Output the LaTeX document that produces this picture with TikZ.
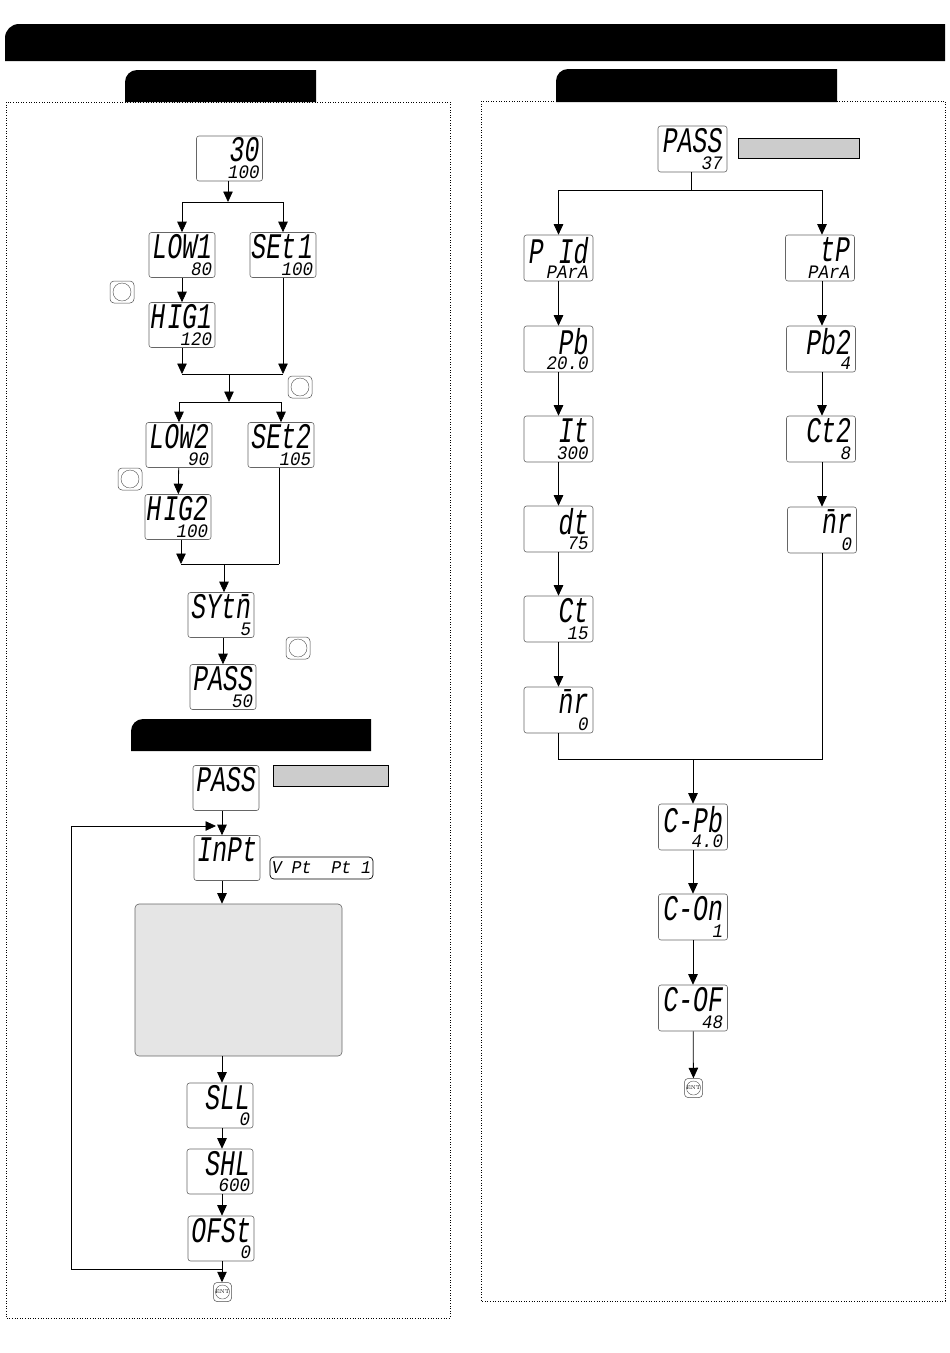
\documentclass[tikz,border=0pt]{standalone}
\usepackage{fontspec}
\usetikzlibrary{arrows.meta}
\newfontfamily\lcdtop[FakeStretch=0.69]{Liberation Mono Italic}
\newfontfamily\lcdbot[FakeStretch=0.92]{Liberation Mono Italic}
\newcommand\lcdshow[2]{\vbox to 41pt{\hsize=60pt
  \hbox to 60pt{\hss\fontsize{36}{36}\lcdtop\selectfont\rule{0pt}{24pt}#1}\vss
  \hbox to 60pt{\hss\fontsize{19}{19}\lcdbot\selectfont\rule{0pt}{13pt}#2}}}
\tikzset{
  lcd/.style={draw=black!60, line width=0.6pt, fill=white, rounded corners=2.5pt, inner sep=0pt, minimum width=66pt, minimum height=45pt},
  lcdwide/.style={lcd, minimum width=69pt, minimum height=46pt},
  note/.style={draw=black, line width=0.7pt, fill=black!20, inner sep=0pt},
  keybox/.style={draw=black!70, line width=0.5pt, rounded corners=4pt, inner sep=0pt, minimum width=24pt, minimum height=22pt},
  keyring/.style={draw=black!70, line width=0.4pt, circle, inner sep=0pt, minimum size=18pt},
  entbox/.style={draw=black!70, line width=0.5pt, rounded corners=3.5pt, inner sep=0pt, minimum width=18pt, minimum height=19pt, font=\fontsize{5.5}{5.5}\selectfont},
  entring/.style={draw=black!70, line width=0.4pt, circle, inner sep=0pt, minimum size=14pt},
  panel/.style={dotted, line width=0.6pt},
}
\begin{document}
\begin{tikzpicture}[x=1pt, y=-1pt, line width=0.8pt, >={Triangle[length=10.5pt,width=9.5pt]}]
  \path[use as bounding box] (0,0) rectangle (950,1353);

  \draw[panel] (6,102) rectangle (450,1318);
  \draw[panel] (481,101) rectangle (945,1301);

  %% black bars
  \fill (5,61) [rounded corners=14pt] -- (5,24) [sharp corners] -- (945,24) -- (945,61) -- cycle;
  \foreach \xa/\ya/\xb/\yb in {125/70/316/102, 556/69/837/102, 131/719/371/751}
    \fill (\xa,\yb) [rounded corners=12pt] -- (\xa,\ya) [sharp corners] -- (\xb,\ya) -- (\xb,\yb) -- cycle;

  %% left panel, upper part
  \node[lcd] (now) at (229.5,158.5) {\lcdshow{30}{100}};
  \node[lcd] (lowa) at (182,255) {\lcdshow{LOW1}{80}};
  \node[lcd] (seta) at (283,255) {\lcdshow{SEt\kern2pt 1}{100}};
  \node[lcd] (higa) at (182,325) {\lcdshow{H\kern2pt IG1}{120}};
  \node[lcd] (lowb) at (179,445) {\lcdshow{LOW2}{90}};
  \node[lcd] (setb) at (281,445) {\lcdshow{SEt2}{105}};
  \node[lcd] (higb) at (178,517) {\lcdshow{H\kern2pt IG2}{100}};
  \node[lcd] (sytm) at (221,615) {\lcdshow{SYt\=n}{5}};
  \node[lcd] (passa) at (223,687) {\lcdshow{PASS}{50}};

  \coordinate (splita) at (228,202);
  \coordinate (joina) at (229,374);
  \coordinate (splitb) at (229,402);
  \coordinate (joinl) at (181,564);
  \coordinate (joinr) at (279,564);
  \coordinate (joinb) at (224,564);

  \draw[->] (now.south -| splita) -- (splita);
  \draw[->] (splita) -| (lowa);
  \draw[->] (splita) -| (seta);
  \draw[->] (lowa) -- (higa);
  \draw[->] (higa.south) -- (higa |- joina);
  \draw[->] (seta.south) -- (seta |- joina);
  \draw (higa |- joina) -- (seta |- joina);
  \draw[->] (joina) -- (splitb);
  \draw[->] (splitb) -| (lowb);
  \draw[->] (splitb) -| (setb);
  \draw[->] (lowb) -- (higb);
  \draw[->] (higb.south -| joinl) -- (joinl);
  \draw (setb.south -| joinr) -- (joinr);
  \draw (joinl) -- (joinr);
  \draw[->] (joinb) -- (sytm.north -| joinb);
  \draw[->] (sytm.south -| passa) -- (passa);

  %% keys
  \foreach \n/\x/\y in {a/122/292, b/130/479, c/300/387, d/298/648} {
    \node[keybox] (key\n) at (\x,\y) {};
    \node[keyring] (ring\n) at (key\n) {};
  }

  %% left panel, lower part
  \node[lcd] (passb) at (226,788) {\lcdshow{PASS}{}};
  \node[note, minimum width=115pt, minimum height=21pt] (noteb) at (330.5,775.5) {};
  \node[lcd] (inpt) at (227,858) {\lcdshow{InPt}{}};
  \node[draw, line width=0.7pt, rounded corners=4pt, inner sep=0pt, minimum width=103pt, minimum height=22pt] (rtd) at (321.5,868) {\fontsize{18}{18}\lcdbot\selectfont V\ Pt\ \ Pt\ 1};
  \node[draw=black!60, line width=0.6pt, fill=black!10, rounded corners=4pt, minimum width=207pt, minimum height=152pt] (range) at (238.5,980) {};
  \node[lcd] (sll) at (220,1105.5) {\lcdshow{SLL}{0}};
  \node[lcd] (shl) at (220,1171.5) {\lcdshow{SHL}{600}};
  \node[lcd] (ofst) at (221,1238.5) {\lcdshow{OFSt}{0}};
  \node[entbox] (enta) at (222.5,1292) {ENT};
  \node[entring] (ringe) at (enta) {};

  \coordinate (trunk) at (222,826);
  \coordinate (back) at (222,1269);
  \coordinate (backl) at (71,1269);
  \coordinate (backu) at (71,826);
  \coordinate (backe) at (216,826);

  \draw[->] (passb.south -| trunk) -- (inpt.north -| trunk);
  \draw[->] (inpt.south -| trunk) -- (range.north -| trunk);
  \draw[->] (range.south -| trunk) -- (sll.north -| trunk);
  \draw[->] (sll.south -| trunk) -- (shl.north -| trunk);
  \draw[->] (shl.south -| trunk) -- (ofst.north -| trunk);
  \draw[->] (ofst.south -| trunk) -- (enta.north -| trunk);
  \draw[->] (back) -- (backl) -- (backu) -- (backe);

  %% right panel
  \node[lcdwide] (passc) at (692.5,149) {\lcdshow{PASS}{37}};
  \node[note, minimum width=121pt, minimum height=20pt] (notec) at (798.5,148) {};
  \node[lcdwide] (pid) at (558.5,258) {\lcdshow{P\ Id}{PArA}};
  \node[lcdwide] (pb) at (558.5,349) {\lcdshow{Pb}{20.0}};
  \node[lcdwide] (it) at (558.5,439) {\lcdshow{It}{300}};
  \node[lcdwide] (dt) at (558.5,529) {\lcdshow{dt}{75}};
  \node[lcdwide] (ct) at (558.5,619) {\lcdshow{Ct}{15}};
  \node[lcdwide] (mra) at (558.5,710) {\lcdshow{\=nr}{0}};
  \node[lcdwide] (tp) at (820,258) {\lcdshow{tP}{PArA}};
  \node[lcdwide] (pbb) at (821,349) {\lcdshow{Pb2}{4}};
  \node[lcdwide] (ctb) at (821,439) {\lcdshow{Ct2}{8}};
  \node[lcdwide] (mrb) at (822,530) {\lcdshow{\=nr}{0}};
  \node[lcdwide] (cpb) at (693,827) {\lcdshow{C-Pb}{4.0}};
  \node[lcdwide] (con) at (693,917) {\lcdshow{C-On}{1}};
  \node[lcdwide] (cof) at (693,1008) {\lcdshow{C-OF}{48}};
  \node[entbox] (entb) at (693.5,1088) {ENT};
  \node[entring] (ringf) at (entb) {};

  \coordinate (splitc) at (691,190);
  \coordinate (railr) at (822,190);
  \coordinate (joinc) at (693,759);

  \draw (passc.south -| splitc) -- (splitc);
  \draw[->] (splitc) -| (pid);
  \draw (splitc) -- (railr);
  \draw[->] (railr) -- (tp.north -| railr);
  \draw[->] (pid) -- (pb);
  \draw[->] (pb) -- (it);
  \draw[->] (it) -- (dt);
  \draw[->] (dt) -- (ct);
  \draw[->] (ct) -- (mra);
  \draw[->] (tp.south -| railr) -- (pbb.north -| railr);
  \draw[->] (pbb.south -| railr) -- (ctb.north -| railr);
  \draw[->] (ctb.south -| railr) -- (mrb.north -| railr);
  \draw (mra.south) |- (joinc) -| (mrb.south);
  \draw[->] (joinc) -- (cpb);
  \draw[->] (cpb) -- (con);
  \draw[->] (con) -- (cof);
  \draw[->] (cof) -- (entb);
\end{tikzpicture}
\end{document}
